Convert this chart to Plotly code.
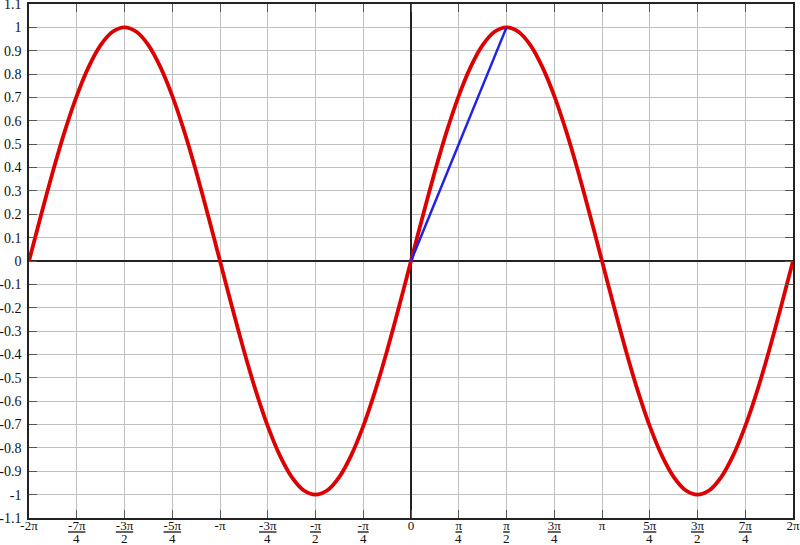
import math
import plotly.graph_objects as go

PI = math.pi

# Sine curve samples at multiples of pi/16, from -2pi to 2pi (x in units of pi/16)
x_sixteenths = list(range(-32, 33))
y_red = [
    0, 0.195, 0.383, 0.556, 0.707, 0.831, 0.924, 0.981, 1, 0.981, 0.924, 0.831, 0.707, 0.556, 0.383, 0.195,
    0, -0.195, -0.383, -0.556, -0.707, -0.831, -0.924, -0.981, -1, -0.981, -0.924, -0.831, -0.707, -0.556, -0.383, -0.195,
    0, 0.195, 0.383, 0.556, 0.707, 0.831, 0.924, 0.981, 1, 0.981, 0.924, 0.831, 0.707, 0.556, 0.383, 0.195,
    0, -0.195, -0.383, -0.556, -0.707, -0.831, -0.924, -0.981, -1, -0.981, -0.924, -0.831, -0.707, -0.556, -0.383, -0.195,
    0,
]

# Blue chord from (0, 0) to (pi/2, 1)  (x in units of pi/16)
x_blue_sixteenths = [0, 8]
y_blue = [0, 1]

# x ticks every pi/4
x_tick_quarters = list(range(-8, 9))
x_tick_num = ["-2π", "-7π", "-3π", "-5π", "-π", "-3π", "-π", "-π", "0",
              "π", "π", "3π", "π", "5π", "3π", "7π", "2π"]
x_tick_den = ["", "4", "2", "4", "", "4", "2", "4", "",
              "4", "2", "4", "", "4", "2", "4", ""]

# y ticks every 0.1
y_tick_vals = [1.1, 1.0, 0.9, 0.8, 0.7, 0.6, 0.5, 0.4, 0.3, 0.2, 0.1, 0.0,
               -0.1, -0.2, -0.3, -0.4, -0.5, -0.6, -0.7, -0.8, -0.9, -1.0, -1.1]
y_tick_text = ["1.1", "1", "0.9", "0.8", "0.7", "0.6", "0.5", "0.4", "0.3", "0.2", "0.1", "0",
               "-0.1", "-0.2", "-0.3", "-0.4", "-0.5", "-0.6", "-0.7", "-0.8", "-0.9", "-1", "-1.1"]

x_red = [k * PI / 16 for k in x_sixteenths]
x_blue = [k * PI / 16 for k in x_blue_sixteenths]
x_tick_vals = [k * PI / 4 for k in x_tick_quarters]

def fmt_num(num, den):
    if den:
        return f"<span style='text-decoration:underline'>{num}</span>"
    return num

x_tick_text = [fmt_num(n, d) for n, d in zip(x_tick_num, x_tick_den)]

fig = go.Figure()
fig.add_trace(go.Scatter(x=x_red, y=y_red, mode="lines",
                         line=dict(color="#dd0000", width=3.8, shape="spline", smoothing=0.8),
                         hoverinfo="skip", showlegend=False))
fig.add_trace(go.Scatter(x=x_blue, y=y_blue, mode="lines",
                         line=dict(color="#2222e6", width=2.5),
                         hoverinfo="skip", showlegend=False))

xfont = dict(family="Liberation Serif", size=13, color="#111111")
yfont = dict(family="Liberation Serif", size=14, color="#111111")

# denominators of the fraction tick labels
for xv, d in zip(x_tick_vals, x_tick_den):
    if d:
        fig.add_annotation(x=xv, xref="x", y=0, yref="paper", text=d, showarrow=False,
                           yanchor="middle", xanchor="center", yshift=-20.5, font=xfont)

eps = 1e-9
fig.update_layout(
    template="none",
    width=800, height=545,
    margin=dict(l=29, r=7, t=4, b=27),
    paper_bgcolor="white", plot_bgcolor="white",
    showlegend=False,
)
fig.update_xaxes(
    range=[-2 * PI - eps, 2 * PI + eps], tickmode="array", tickvals=x_tick_vals, ticktext=x_tick_text,
    showgrid=True, gridcolor="#c0c0c0", gridwidth=1,
    zeroline=True, zerolinecolor="#222222", zerolinewidth=1.5,
    showline=True, linecolor="#222222", linewidth=1.5, mirror="ticks",
    ticks="inside", ticklen=8, tickcolor="#555555", tickwidth=1,
    tickfont=xfont, automargin=False, fixedrange=True, ticklabelstandoff=-5,
    ticklabeloverflow="allow",
)
fig.update_yaxes(
    range=[-1.1 - eps, 1.1 + eps], tickmode="array", tickvals=y_tick_vals, ticktext=y_tick_text,
    showgrid=True, gridcolor="#c0c0c0", gridwidth=1,
    zeroline=True, zerolinecolor="#222222", zerolinewidth=1.5,
    showline=True, linecolor="#222222", linewidth=1.5, mirror="ticks",
    ticks="inside", ticklen=8, tickcolor="#555555", tickwidth=1,
    tickfont=yfont, automargin=False, fixedrange=True, ticklabelstandoff=3,
    ticklabeloverflow="allow",
)

fig.write_html("out.html", post_script="document.body.style.margin='0px';",
               config={"displayModeBar": False})
